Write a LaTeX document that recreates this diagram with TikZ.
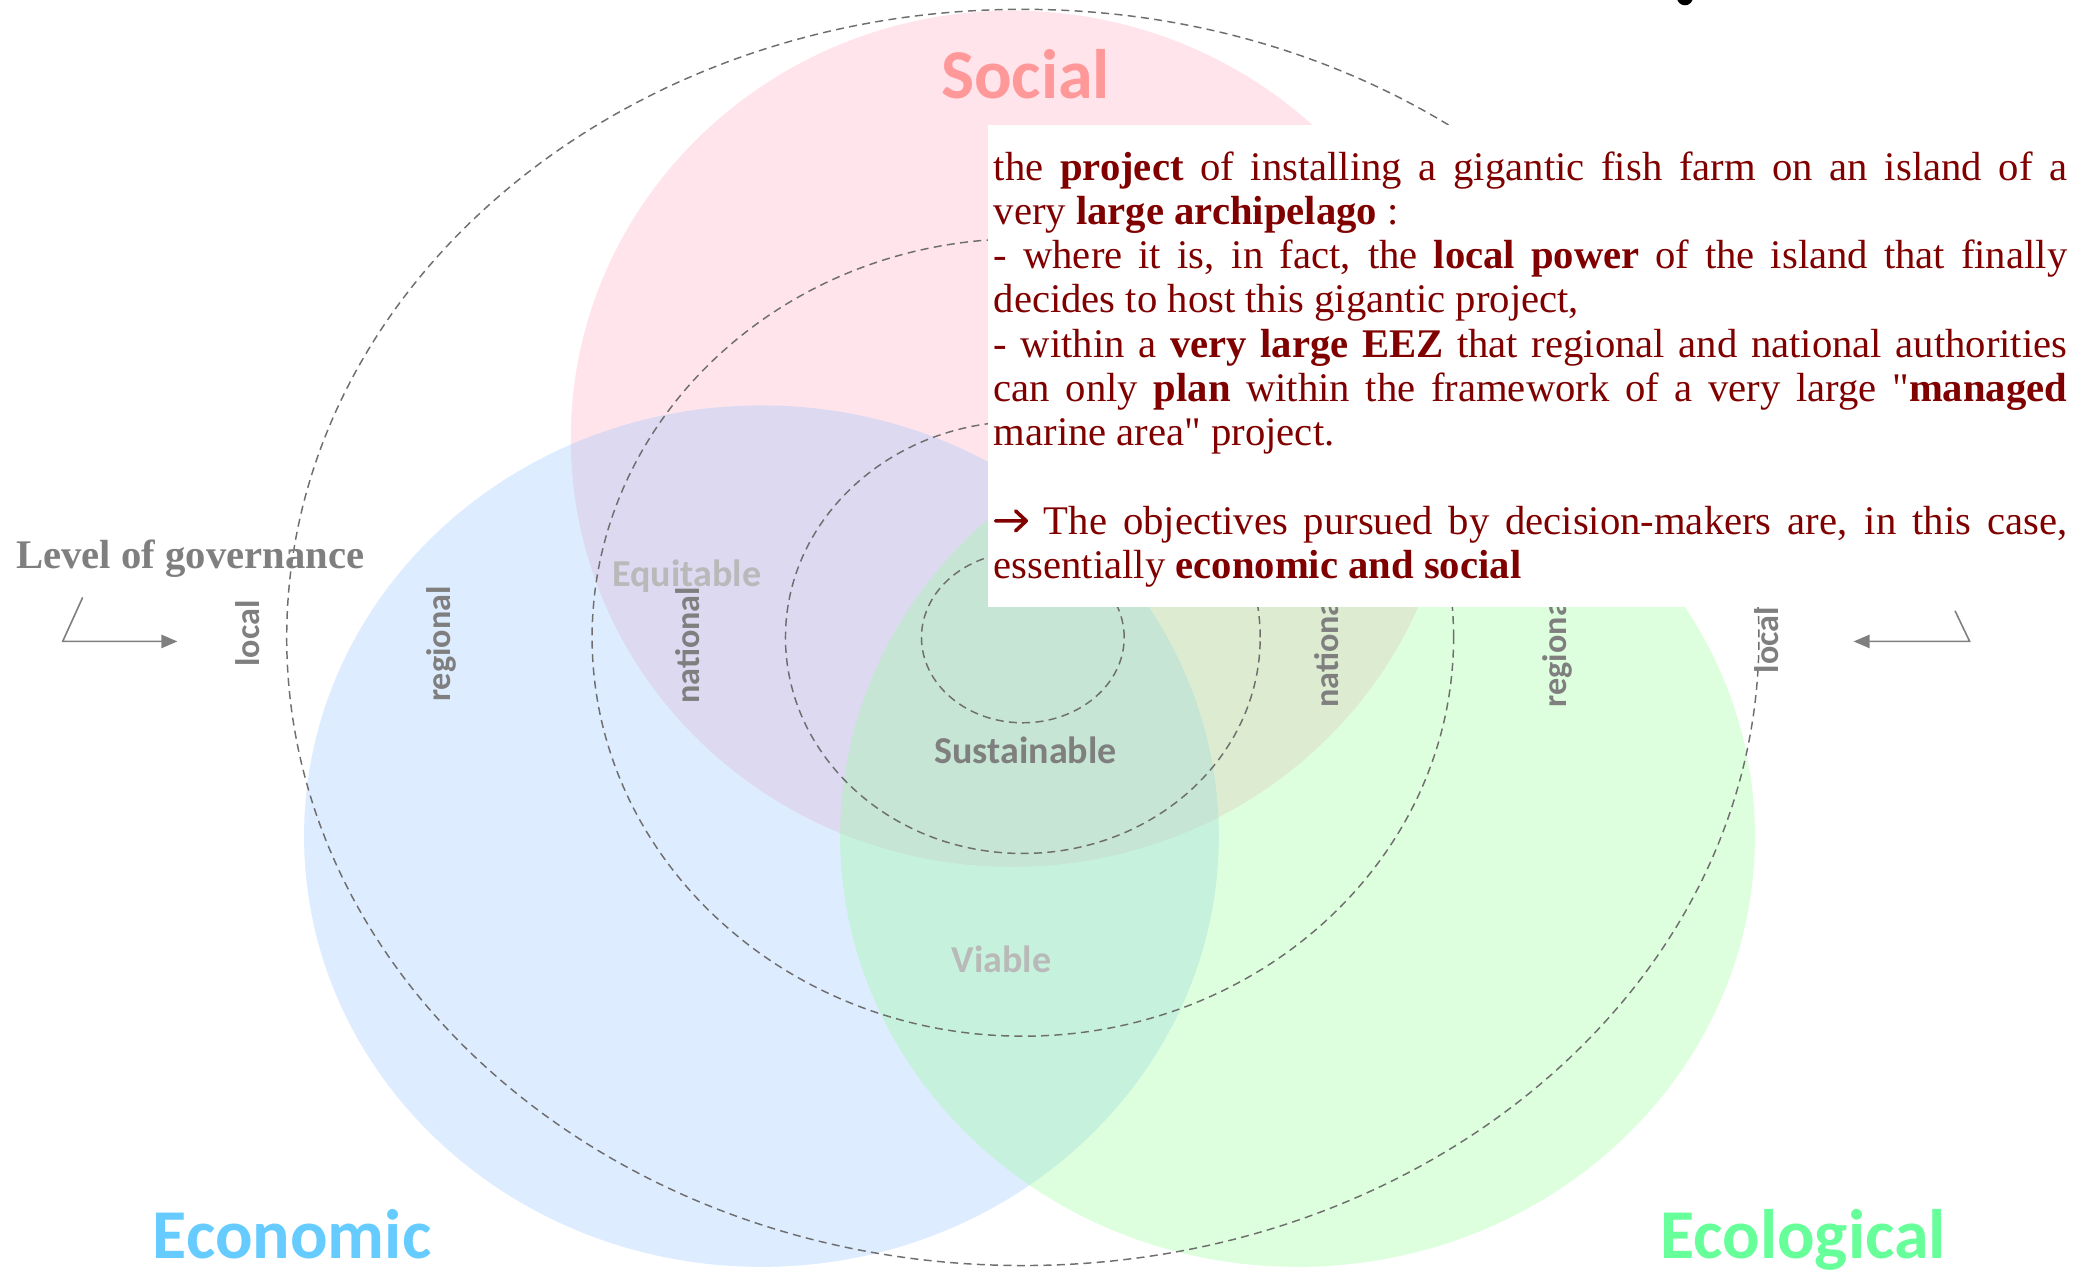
\documentclass[tikz,border=0pt]{standalone}
\usepackage{fontspec}
\setmainfont{Liberation Serif}[Ligatures=TeXOff]
\newfontfamily\calib{Carlito}
\usetikzlibrary{arrows.meta}
\definecolor{txtred}{RGB}{128,0,0}
\definecolor{socialc}{RGB}{255,153,153}
\definecolor{econc}{RGB}{102,204,255}
\definecolor{ecolc}{RGB}{102,255,153}
\definecolor{pinkfill}{RGB}{255,170,195}
\definecolor{bluefill}{RGB}{150,195,255}
\definecolor{greenfill}{RGB}{150,255,150}
\definecolor{dashc}{RGB}{110,110,110}
\definecolor{lvlc}{RGB}{127,127,127}
\definecolor{lightlbl}{RGB}{185,185,185}
\newcommand{\boldarrow}{\tikz[x=1pt,y=1pt,baseline=0pt]{\draw[txtred, line width=2.7pt, line cap=round, line join=round] (1,10) -- (24,10) (16,2.5) -- (24,10) -- (16,17.5);}}
\begin{document}
\begin{tikzpicture}[x=1pt,y=-1pt,
  venn/.style={fill opacity=0.32},
  gov/.style={draw=dashc, dash pattern=on 6pt off 4pt, line width=1.1pt},
  levellabel/.style={font=\calib\bfseries\fontsize{25.6}{30}\selectfont, text=lvlc, rotate=90, inner sep=0},
  bigtitle/.style={font=\calib\bfseries\fontsize{52.5}{60}\selectfont, inner sep=0, anchor=base},
  midtitle/.style={font=\calib\bfseries\fontsize{28.5}{34}\selectfont, inner sep=0},
  govarrow/.style={draw=lvlc, line width=1.2pt, -{Triangle[length=12pt,width=10pt]}}
]
\useasboundingbox (0,0) rectangle (1568,955);
% Venn discs
\fill[pinkfill, venn] (759,329) ellipse [x radius=331pt, y radius=321pt];
\fill[bluefill, venn] (571,627) ellipse [x radius=343pt, y radius=323pt];
\fill[greenfill, venn] (973,627) ellipse [x radius=343pt, y radius=323pt];
% governance levels
\draw[gov] (767,478) ellipse [x radius=76pt, y radius=64pt];
\draw[gov] (767,478) ellipse [x radius=178pt, y radius=162pt];
\draw[gov] (767,478) ellipse [x radius=323pt, y radius=299pt];
\draw[gov] (767,478) ellipse [x radius=552pt, y radius=471pt];
% big titles
\node[bigtitle, text=socialc] (social) at (769,74) {Social};
\node[bigtitle, text=econc] (econ) at (219,944) {Economic};
\node[bigtitle, text=ecolc] (ecol) at (1352,944) {Ecological};
% inner titles
\node[midtitle, text=lightlbl] (equit) at (515,432) {Equitable};
\node[midtitle, text=lvlc] (sust) at (769,563) {Sustainable};
\node[midtitle, text=lightlbl] (viab) at (751,719) {Viable};
% level labels
\node[levellabel] (lloc) at (186,475) {local};
\node[levellabel] (lreg) at (331,483) {regional};
\node[levellabel] (lnat) at (516,484) {national};
\node[levellabel] (rnat) at (995,487) {national};
\node[levellabel] (rreg) at (1168,487) {regional};
\node[levellabel] (rloc) at (1325,480) {local};
% level of governance
\node[anchor=base west, inner sep=0, text=lvlc, font=\bfseries\fontsize{30.5}{33}\selectfont] (lvl) at (12,426) {Level of governance};
\coordinate (la0) at (62,448);
\coordinate (la1) at (47,481);
\coordinate (la2) at (133,481);
\draw[govarrow] (la0) -- (la1) -- (la2);
\coordinate (ra0) at (1466,458);
\coordinate (ra1) at (1477,481);
\coordinate (ra2) at (1390,481);
\draw[govarrow] (ra0) -- (ra1) -- (ra2);
% stray dot at top
\fill[black] (1263.5,-2) circle (6pt);
% text box
\fill[white] (741,94) rectangle (1553,455);
\node[anchor=base west, inner sep=0, text=txtred, font=\fontsize{30.5}{33.2}\selectfont] (desc) at (745,135) {\vtop{\hsize=805pt \baselineskip=33.2pt \lineskiplimit=-100pt
\hbox to\hsize{the \textbf{project} of installing a gigantic fish farm on an island of a}
\hbox to\hsize{very \textbf{large archipelago} :\hfil}
\hbox to\hsize{- where it is, in fact, the \textbf{local power} of the island that finally}
\hbox to\hsize{decides to host this gigantic project,\hfil}
\hbox to\hsize{- within a \textbf{very large EEZ} that regional and national authorities}
\hbox to\hsize{can only \textbf{plan} within the framework of a very large "\textbf{managed}}
\hbox to\hsize{marine area" project.\hfil}
\hbox{}
\hbox to\hsize{\boldarrow\ The objectives pursued by decision-makers are, in this case,}
\hbox to\hsize{essentially \textbf{economic and social}\hfil}
}};
\end{tikzpicture}
\end{document}
